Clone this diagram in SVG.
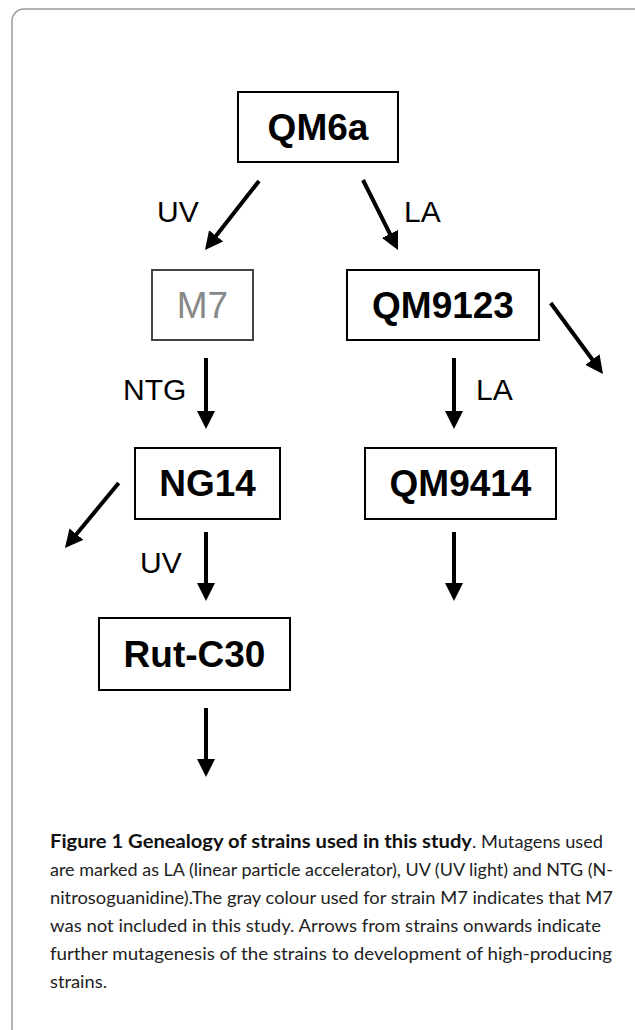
<svg xmlns="http://www.w3.org/2000/svg" width="635" height="1030" viewBox="0 0 635 1030">
<style>
.box{fill:#fff;stroke:#000;stroke-width:2}
.gbox{fill:#fff;stroke:#444;stroke-width:2}
.lbl{font-family:"Liberation Sans",Arial,sans-serif;font-weight:bold;font-size:37px;text-anchor:middle;fill:#000}
.glbl{font-family:"Liberation Sans",Arial,sans-serif;font-size:37px;text-anchor:middle;fill:#888}
.mut{font-family:"Liberation Sans",Arial,sans-serif;font-size:30px;fill:#000}
.arr{stroke:#000;stroke-width:4;fill:none;marker-end:url(#ah)}
.cap{font-family:Lato,"Open Sans",sans-serif;font-size:18px;fill:#222}
.capb{font-family:Lato,"Open Sans",sans-serif;font-size:18px;font-weight:bold;fill:#111}
</style>
<defs>
<marker id="ah" markerUnits="userSpaceOnUse" markerWidth="18" markerHeight="18" viewBox="0 0 18 18" refX="14" refY="9" orient="auto">
<path d="M0,0 L18,9 L0,18 z" fill="#000"/>
</marker>
</defs>
<rect x="12" y="9" width="640" height="1040" rx="12" ry="12" fill="#fff" stroke="#999" stroke-width="1.5"/>
<g id="connectors">
<line class="arr" x1="259" y1="181" x2="207.5" y2="246.8"/>
<line class="arr" x1="363" y1="180" x2="396.2" y2="246.4"/>
<line class="arr" x1="206" y1="358" x2="206" y2="425"/>
<line class="arr" x1="454" y1="358" x2="454" y2="425"/>
<line class="arr" x1="550.7" y1="303" x2="600.6" y2="370.8"/>
<line class="arr" x1="118.7" y1="483" x2="67.5" y2="544.9"/>
<line class="arr" x1="206" y1="532" x2="206" y2="597"/>
<line class="arr" x1="454" y1="532" x2="454" y2="597"/>
<line class="arr" x1="206" y1="708" x2="206" y2="773"/>
<text class="mut" x="157" y="222">UV</text>
<text class="mut" x="404" y="222">LA</text>
<text class="mut" x="123" y="400">NTG</text>
<text class="mut" x="476" y="400">LA</text>
<text class="mut" x="140" y="573">UV</text>
</g>
<g id="QM6a">
<rect class="box" x="238" y="92" width="160" height="70"/>
<text class="lbl" x="318" y="140">QM6a</text>
</g>
<g id="M7">
<rect class="gbox" x="152" y="270" width="101" height="70"/>
<text class="glbl" x="202.5" y="318">M7</text>
</g>
<g id="QM9123">
<rect class="box" x="347" y="270" width="192" height="70"/>
<text class="lbl" x="443" y="318">QM9123</text>
</g>
<g id="NG14">
<rect class="box" x="135" y="448" width="145" height="71"/>
<text class="lbl" x="207.5" y="496">NG14</text>
</g>
<g id="QM9414">
<rect class="box" x="365" y="448" width="191" height="71"/>
<text class="lbl" x="460.5" y="496">QM9414</text>
</g>
<g id="RutC30">
<rect class="box" x="99" y="618" width="191" height="72"/>
<text class="lbl" x="194.5" y="667">Rut-C30</text>
</g>
<g id="caption">
<text class="capb" x="50" y="848" textLength="422" lengthAdjust="spacingAndGlyphs">Figure 1 Genealogy of strains used in this study</text>
<text class="cap" x="472" y="848" textLength="131" lengthAdjust="spacingAndGlyphs">. Mutagens used</text>
<text class="cap" x="50" y="876" textLength="563" lengthAdjust="spacingAndGlyphs">are marked as LA (linear particle accelerator), UV (UV light) and NTG (N-</text>
<text class="cap" x="50" y="904" textLength="563" lengthAdjust="spacingAndGlyphs">nitrosoguanidine).The gray colour used for strain M7 indicates that M7</text>
<text class="cap" x="50" y="932" textLength="551" lengthAdjust="spacingAndGlyphs">was not included in this study. Arrows from strains onwards indicate</text>
<text class="cap" x="50" y="960" textLength="562" lengthAdjust="spacingAndGlyphs">further mutagenesis of the strains to development of high-producing</text>
<text class="cap" x="50" y="988" textLength="57" lengthAdjust="spacingAndGlyphs">strains.</text>
</g>
</svg>
